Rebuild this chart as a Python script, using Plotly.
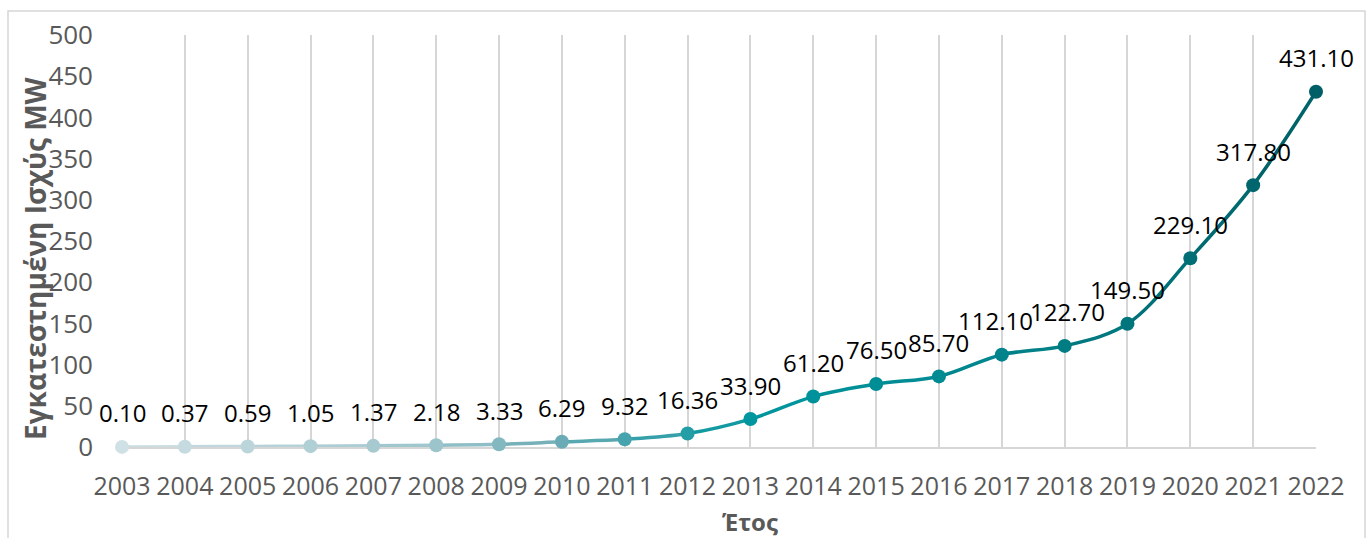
import plotly.graph_objects as go

years = [2003, 2004, 2005, 2006, 2007, 2008, 2009, 2010, 2011, 2012,
         2013, 2014, 2015, 2016, 2017, 2018, 2019, 2020, 2021, 2022]
capacity_mw = [0.10, 0.37, 0.59, 1.05, 1.37, 2.18, 3.33, 6.29, 9.32, 16.36,
               33.90, 61.20, 76.50, 85.70, 112.10, 122.70, 149.50, 229.10, 317.80, 431.10]
value_labels = ["0.10", "0.37", "0.59", "1.05", "1.37", "2.18", "3.33", "6.29", "9.32", "16.36",
                "33.90", "61.20", "76.50", "85.70", "112.10", "122.70", "149.50", "229.10", "317.80", "431.10"]
year_labels = [str(y) for y in years]
y_ticks = [0, 50, 100, 150, 200, 250, 300, 350, 400, 450, 500]

x_title = "Έτος"
y_title = "Εγκατεστημένη Ισχύς MW"

FONT = "Open Sans, Lato, sans-serif"
GRAY = "#595959"
GRID = "#d6d6d6"

# gradient stops (style only)
stops = [(0.0, "#d0e1e5"), (5 / 19, "#9cc4cb"), (7 / 19, "#6aabb5"), (10 / 19, "#00969f"),
         (13 / 19, "#008a92"), (16 / 19, "#00757c"), (1.0, "#005f66")]

# small horizontal nudges of data labels (pixels) to reduce overlap, like the reference
label_nudge = {2017: -6, 2018: 3}


def hex2rgb(h):
    return tuple(int(h[k:k + 2], 16) for k in (1, 3, 5))


def grad(t):
    for (t0, h0), (t1, h1) in zip(stops[:-1], stops[1:]):
        if t <= t1 + 1e-9:
            c0, c1 = hex2rgb(h0), hex2rgb(h1)
            f = (t - t0) / (t1 - t0) if t1 > t0 else 0
            c = [round(a + (b - a) * f) for a, b in zip(c0, c1)]
            return "rgb(%d,%d,%d)" % tuple(c)
    return "rgb(%d,%d,%d)" % hex2rgb(stops[-1][1])


n = len(years)
marker_colors = [grad(i / (n - 1)) for i in range(n)]

# plot area in pixels
W, H = 1369, 538
L, R, T, B = 122, 53, 35, 91
pw, ph = W - L - R, H - T - B

fig = go.Figure()
layout_axes = {}

# line drawn as a full spline in each segment-wide clipped subplot -> gradient effect
for i in range(n - 1):
    ax_name = "xaxis%d" % (i + 2)
    layout_axes[ax_name] = dict(domain=[i / (n - 1), (i + 1) / (n - 1)],
                                range=[years[i], years[i + 1]], visible=False,
                                anchor="y", showgrid=False, zeroline=False, fixedrange=True)
    fig.add_trace(go.Scatter(
        x=years, y=capacity_mw, mode="lines",
        line=dict(color=grad((i + 0.5) / (n - 1)), width=3.5, shape="spline",
                  smoothing=1, simplify=False),
        xaxis="x%d" % (i + 2), yaxis="y", hoverinfo="skip", showlegend=False))

# markers on a full-width subplot drawn last (on top of the line segments)
mk = n + 1
layout_axes["xaxis%d" % mk] = dict(domain=[0, 1], range=[years[0], years[-1]], visible=False,
                                   anchor="y", showgrid=False, zeroline=False, fixedrange=True)
fig.add_trace(go.Scatter(
    x=years, y=capacity_mw, mode="markers",
    marker=dict(size=14, color=marker_colors, line=dict(width=0)),
    xaxis="x%d" % mk, yaxis="y",
    cliponaxis=False, showlegend=False, hoverinfo="x+y"))

annotations = []
for yr, v, lab in zip(years, capacity_mw, value_labels):
    annotations.append(dict(x=yr, y=v, xref="x", yref="y", text=lab, showarrow=False,
                            xanchor="center", yanchor="middle",
                            xshift=label_nudge.get(yr, 0), yshift=34,
                            font=dict(family=FONT, size=24, color="#000000")))

annotations.append(dict(x=(750 - L) / pw, y=(H - 521 - B) / ph, xref="paper", yref="paper",
                        text="<b>%s</b>" % x_title, showarrow=False,
                        xanchor="center", yanchor="middle",
                        font=dict(family=FONT, size=24, color=GRAY)))
annotations.append(dict(x=(35 - L) / pw, y=(H - 258 - B) / ph, xref="paper", yref="paper",
                        text="<b>%s</b>" % y_title, showarrow=False, textangle=-90,
                        xanchor="center", yanchor="middle",
                        font=dict(family=FONT, size=28, color=GRAY)))

fig.update_layout(
    width=W, height=H, autosize=False,
    margin=dict(l=L, r=R, t=T, b=B, pad=0),
    paper_bgcolor="white", plot_bgcolor="rgba(0,0,0,0)",
    font=dict(family=FONT, color=GRAY),
    showlegend=False,
    xaxis=dict(range=[years[0], years[-1]], tickmode="array", tickvals=years, ticktext=year_labels,
               showgrid=True, gridcolor=GRID, gridwidth=2, zeroline=False,
               showline=True, linecolor=GRID, linewidth=2, ticks="",
               tickfont=dict(family=FONT, size=25, color=GRAY), ticklabelstandoff=16,
               fixedrange=True),
    yaxis=dict(range=[0, 500], tickmode="array", tickvals=y_ticks,
               showgrid=False, zeroline=False, showline=False, ticks="",
               tickfont=dict(family=FONT, size=26, color=GRAY), ticklabelstandoff=28,
               fixedrange=True),
    annotations=annotations,
    shapes=[dict(type="rect", xref="paper", yref="paper",
                 x0=(8 - L) / pw, x1=(1365 - L) / pw,
                 y0=(H - 545 - B) / ph, y1=(H - 11 - B) / ph,
                 line=dict(color=GRID, width=1.5), fillcolor="rgba(0,0,0,0)", layer="below")],
    **layout_axes,
)

fig.write_html("out.html")
